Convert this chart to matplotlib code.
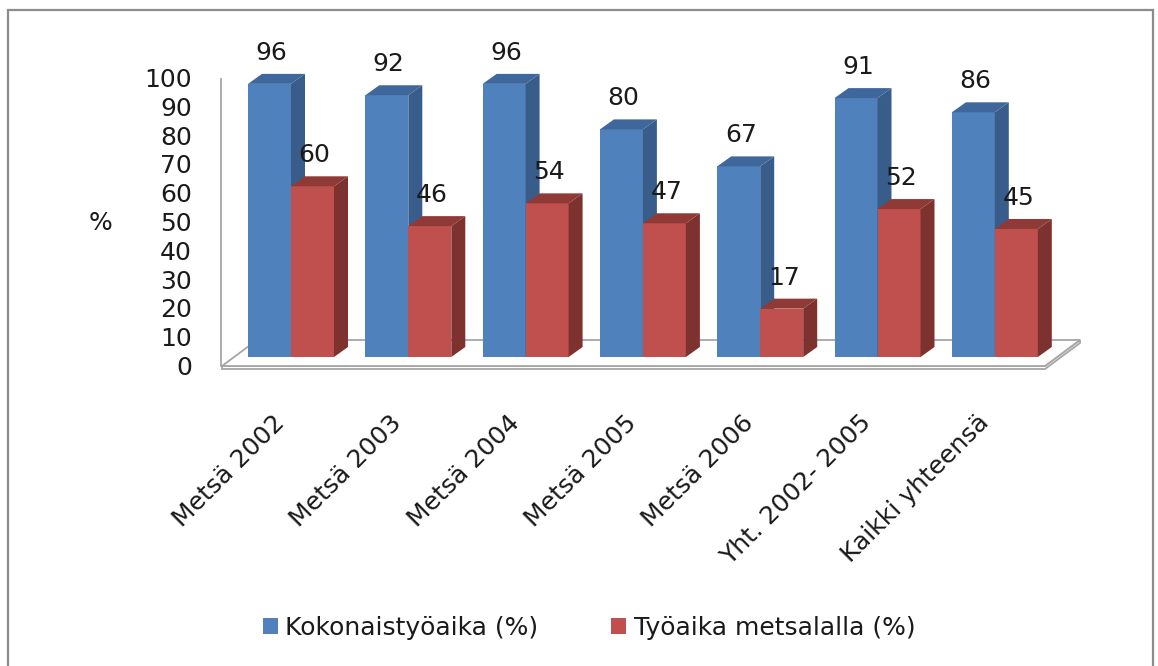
import matplotlib
matplotlib.use('Agg')
import matplotlib.pyplot as plt
from matplotlib.patches import Polygon, Rectangle, Patch
from matplotlib.transforms import ScaledTranslation
import numpy as np

# ---------------- data ----------------
categories = ['Metsä 2002', 'Metsä 2003', 'Metsä 2004', 'Metsä 2005',
              'Metsä 2006', 'Yht. 2002- 2005', 'Kaikki yhteensä']
kokonaistyoaika = [96, 92, 96, 80, 67, 91, 86]
tyoaika_metsalalla = [60, 46, 54, 47, 17, 52, 45]
series_names = ['Kokonaistyöaika (%)', 'Työaika metsalalla (%)']
y_ticks = [0, 10, 20, 30, 40, 50, 60, 70, 80, 90, 100]
y_label = '%'

# ---------------- style ----------------
W, H = 1158, 666
FS = 18
plt.rcParams['font.family'] = ['DejaVu Sans']
BLUE, BLUE_SIDE, BLUE_TOP = '#4F81BD', '#385D8A', '#40679B'
RED, RED_SIDE, RED_TOP = '#C0504D', '#7E3230', '#903A37'
GRID = '#A6A6A6'
TXT = '#1a1a1a'

fig = plt.figure(figsize=(W / 100, H / 100), dpi=100)

# layout in pixels (top-left origin)
base_px, top_px = 357.0, 72.5       # value 0 and 100 on bars
left_px, right_px = 221.0, 1080.0
first_px, step_px = 291.0, 117.3    # category centre positions
bar_px = 43.0
depth_dx, depth_dy = 14.0, 10.0

ax = fig.add_axes([left_px / W, 1 - base_px / H,
                   (right_px - left_px) / W, (base_px - top_px) / H])
ax.set_facecolor('none')
for s in ax.spines.values():
    s.set_visible(False)

xmin = (left_px - first_px) / step_px
xmax = (right_px - first_px) / step_px
ax.set_xlim(xmin, xmax)
ax.set_ylim(0, 100)

ppx = step_px            # pixels per x unit
ppy = (base_px - top_px) / 100.0


def px2x(p):
    return (p - first_px) / ppx


def py2v(p):
    return (base_px - p) / ppy


dxd = depth_dx / ppx
dyd = depth_dy / ppy
w = bar_px / ppx
x = np.arange(len(categories))

# floor slab
floor_kw = dict(facecolor='white', edgecolor=GRID, lw=1.3, clip_on=False, zorder=1)
fl, fr, br, bl = (222, 366), (1045, 366), (1080, 340), (257, 340)
th = 3
ax.add_patch(Polygon([(px2x(fl[0]), py2v(fl[1] + th)), (px2x(fr[0]), py2v(fr[1] + th)),
                      (px2x(br[0]), py2v(br[1] + th)), (px2x(br[0]), py2v(br[1])),
                      (px2x(fr[0]), py2v(fr[1])), (px2x(fl[0]), py2v(fl[1]))], **floor_kw))
ax.add_patch(Polygon([(px2x(p[0]), py2v(p[1])) for p in (fl, fr, br, bl)], **floor_kw))
# vertical axis line
ax.plot([xmin, xmin], [py2v(366), py2v(79)], color=GRID, lw=1.3, clip_on=False, zorder=1)


def bar3d(lefts, values, front, side, top, z):
    ax.bar(lefts + w / 2, values, w, color=front, zorder=z, clip_on=False, linewidth=0)
    for L, v in zip(lefts, values):
        R = L + w
        ax.add_patch(Polygon([(R, 0), (R, v), (R + dxd, v + dyd), (R + dxd, dyd)],
                             facecolor=side, edgecolor='none', zorder=z + 0.1, clip_on=False))
        ax.add_patch(Polygon([(L, v), (R, v), (R + dxd, v + dyd), (L + dxd, v + dyd)],
                             facecolor=top, edgecolor='none', zorder=z + 0.1, clip_on=False))
        ax.text(L + w / 2 + 2 / ppx, v + 31 / ppy, str(v), ha='center', va='center',
                fontsize=FS, color=TXT, zorder=6)


bar3d(x - w, np.array(kokonaistyoaika), BLUE, BLUE_SIDE, BLUE_TOP, 3)
bar3d(x + 0.0, np.array(tyoaika_metsalalla), RED, RED_SIDE, RED_TOP, 4)

# y tick labels (value axis drawn in front of the bars)
for v in y_ticks:
    ax.text(px2x(192), py2v(368 - 2.88 * v), str(v), ha='right', va='center',
            fontsize=FS, color=TXT)
ax.set_yticks([])

# category labels
ax.set_xticks(x)
ax.set_xticklabels(categories, rotation=45, ha='right', va='center',
                   rotation_mode='anchor', fontsize=FS, color=TXT)
ax.tick_params(axis='x', length=0, pad=(419 - base_px) * 0.72)
shift = ScaledTranslation(-10 / 100, 0, fig.dpi_scale_trans)
for lab in ax.get_xticklabels():
    lab.set_transform(lab.get_transform() + shift)

fig.text(100 / W, 1 - 223 / H, y_label, ha='center', va='center', fontsize=FS, color=TXT)

handles = [Patch(facecolor=BLUE, edgecolor='none'), Patch(facecolor=RED, edgecolor='none')]
fig.legend(handles, series_names, loc='center', bbox_to_anchor=(589 / W, 1 - 628 / H),
           ncol=2, frameon=False, fontsize=FS, handlelength=0.6, handleheight=0.6,
           handletextpad=0.3, columnspacing=2.9, labelcolor=TXT)

fig.add_artist(Rectangle((8 / W, -0.02), (1153 - 8) / W, 1 - 10 / H + 0.02,
                         transform=fig.transFigure, fill=False, edgecolor='#8C8C8C', lw=1.6))

fig.savefig('out.png', dpi=100)
